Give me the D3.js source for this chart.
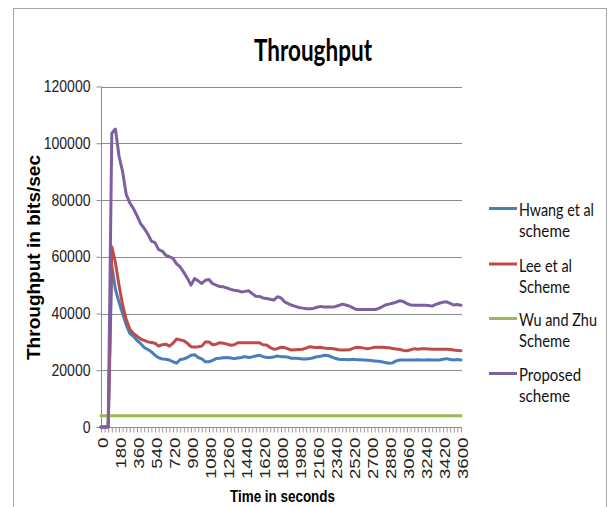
<!DOCTYPE html>
<html><head><meta charset="utf-8">
<script src="https://cdn.jsdelivr.net/npm/d3@7"></script>
<style>body{margin:0;background:#fff;} svg{display:block}</style>
</head><body><svg id="chart" width="613" height="507"></svg>
<script>
const times = [0,36,72,108,144,180,216,252,288,324,360,396,432,468,504,540,576,612,648,684,720,756,792,828,864,900,936,972,1008,1044,1080,1116,1152,1188,1224,1260,1296,1332,1368,1404,1440,1476,1512,1548,1584,1620,1656,1692,1728,1764,1800,1836,1872,1908,1944,1980,2016,2052,2088,2124,2160,2196,2232,2268,2304,2340,2376,2412,2448,2484,2520,2556,2592,2628,2664,2700,2736,2772,2808,2844,2880,2916,2952,2988,3024,3060,3096,3132,3168,3204,3240,3276,3312,3348,3384,3420,3456,3492,3528,3564,3600];
const xTickLabels = ["0","180","360","540","720","900","1080","1260","1440","1620","1800","1980","2160","2340","2520","2700","2880","3060","3240","3420","3600"];
const yTickValues = [0,20000,40000,60000,80000,100000,120000];

const hwang = [0,0,0,57000,48500,44000,40000,36000,33000,32000,30500,29400,28000,27300,26500,25300,24400,24000,23900,23600,23000,22500,23800,24000,24500,25300,25500,24500,24000,23000,23000,23500,24100,24200,24400,24500,24300,24100,24300,24500,24800,24500,24700,25000,25300,24800,24500,24500,24700,25000,24800,24800,24600,24200,24200,24100,24000,24000,24100,24400,24800,24900,25300,25200,24700,24200,23900,23800,23800,23700,23900,23700,23700,23600,23500,23400,23300,23200,23000,22700,22500,22600,23300,23600,23600,23600,23600,23600,23700,23600,23600,23700,23600,23600,23600,23900,24100,23800,23600,23800,23600];
const lee = [0,0,0,63500,58000,50000,43000,38000,34500,33000,32000,31000,30500,30000,29800,29500,28500,29000,29200,28500,29500,31000,30700,30400,29500,28300,28200,28300,28500,30000,30000,29000,29200,29700,29500,29200,28800,29000,29700,29700,29700,29700,29700,29700,29700,29000,28900,28000,27400,27600,28100,28000,27500,27100,27200,27300,27400,27800,28300,28100,28000,28100,27800,27700,27700,27500,27200,27100,27100,27200,27700,28100,28000,27800,27600,27800,28100,28100,28100,28000,27900,27700,27500,27300,27000,26900,27200,27600,27400,27600,27600,27500,27400,27400,27400,27400,27400,27300,27100,27000,26900];
const wuZhu = [4000,4000,4000,4000,4000,4000,4000,4000,4000,4000,4000,4000,4000,4000,4000,4000,4000,4000,4000,4000,4000,4000,4000,4000,4000,4000,4000,4000,4000,4000,4000,4000,4000,4000,4000,4000,4000,4000,4000,4000,4000,4000,4000,4000,4000,4000,4000,4000,4000,4000,4000,4000,4000,4000,4000,4000,4000,4000,4000,4000,4000,4000,4000,4000,4000,4000,4000,4000,4000,4000,4000,4000,4000,4000,4000,4000,4000,4000,4000,4000,4000,4000,4000,4000,4000,4000,4000,4000,4000,4000,4000,4000,4000,4000,4000,4000,4000,4000,4000,4000,4000];
const proposed = [0,0,0,103500,105000,95500,90000,82000,79000,77000,74500,71700,70000,68000,65500,65000,62500,62000,60500,60000,59400,57500,56400,54500,52400,50000,52300,51500,50600,51700,52000,50500,50000,49500,49400,49000,48500,48200,48000,47600,47800,48000,47000,46100,46000,45500,45300,45000,44700,45900,45500,44100,43500,42900,42500,42100,41900,41700,41700,41800,42200,42500,42300,42300,42300,42400,42800,43300,43000,42600,42000,41400,41400,41400,41400,41400,41400,41700,42300,43000,43300,43600,44000,44500,44200,43500,43000,42900,42900,42900,42900,42800,42600,43200,43600,44000,44100,43600,43000,43200,42900];

const seriesNames = [["Hwang et al","scheme"],["Lee et al","Scheme"],["Wu and Zhu","Scheme"],["Proposed","scheme"]];
const seriesData = [hwang, lee, wuZhu, proposed];
const seriesColors = ["#4A7EBB","#BE4B48","#98B954","#7D60A0"];

const svg = d3.select("#chart");
svg.append("rect").attr("width",613).attr("height",507).attr("fill","#fff");
// outer frame
svg.append("rect").attr("x",13.5).attr("y",8.5).attr("width",593).attr("height",540)
  .attr("fill","none").attr("stroke","#a6a6a6").attr("stroke-width",1);

const x = d3.scaleLinear().domain([0,3600]).range([101,461]);
const y = d3.scaleLinear().domain([0,120000]).range([427,86.5]);

// gridlines
svg.append("g").selectAll("line").data(yTickValues.filter(v=>v>0)).join("line")
  .attr("x1",101).attr("x2",462).attr("y1",d=>Math.round(y(d))+0.5).attr("y2",d=>Math.round(y(d))+0.5)
  .attr("stroke","#8c8c8c").attr("stroke-width",1);

// y axis
const yAxis = svg.append("g").attr("transform","translate(101.5,0)")
  .call(d3.axisLeft(y).tickValues(yTickValues).tickSize(5).tickPadding(6).tickFormat(d3.format("d")));
yAxis.select(".domain").attr("stroke","#8c8c8c").attr("d","M0,86.5V427");
yAxis.selectAll(".tick line").attr("stroke","#8c8c8c");
yAxis.selectAll(".tick text").attr("fill","#222").style("font-family","'Liberation Sans', Arial, sans-serif")
  .style("font-size","16px").attr("textLength",d=>String(d).length*7.8).attr("lengthAdjust","spacingAndGlyphs");

// x axis minor ticks
const xAxis = svg.append("g").attr("transform","translate(0,427.5)")
  .call(d3.axisBottom(x).tickValues(times).tickSize(5).tickFormat(""));
xAxis.select(".domain").attr("stroke","#8c8c8c").attr("d","M101,0H462");
xAxis.selectAll(".tick line").attr("stroke","#9a9a9a");

// x axis labels
const xLab = svg.append("g").attr("transform","translate(0,427.5)")
  .call(d3.axisBottom(x).tickValues(xTickLabels.map(Number)).tickSize(0).tickFormat((d,i)=>xTickLabels[i]));
xLab.select(".domain").remove();
xLab.selectAll(".tick text")
  .attr("transform","rotate(-90)").attr("x",-10).attr("y",2).attr("dy","0.35em")
  .style("text-anchor","end").attr("fill","#222")
  .style("font-family","'Liberation Sans', Arial, sans-serif").style("font-size","14px")
  .attr("textLength",(d,i)=>xTickLabels[i].length*10.4).attr("lengthAdjust","spacingAndGlyphs");

// lines
const line = d3.line().x((d,i)=>x(times[i])).y(d=>y(d));
seriesData.forEach((s,k)=>{
  svg.append("path").datum(s).attr("d",line).attr("fill","none")
    .attr("stroke",seriesColors[k]).attr("stroke-width",3)
    .attr("stroke-linejoin","round").attr("stroke-linecap","round");
});

// title
svg.append("text").attr("x",313).attr("y",61).attr("text-anchor","middle")
  .style("font-family","Lato, 'Open Sans', sans-serif").style("font-weight","bold").style("font-size","31px")
  .attr("textLength",118).attr("lengthAdjust","spacingAndGlyphs").text("Throughput");

// y axis title
svg.append("text").attr("transform","translate(40,257.5) rotate(-90)").attr("text-anchor","middle")
  .style("font-family","'Liberation Sans', Arial, sans-serif").style("font-weight","bold").style("font-size","18px")
  .attr("textLength",205).attr("lengthAdjust","spacingAndGlyphs").text("Throughput in bits/sec");

// x axis title
svg.append("text").attr("x",282.5).attr("y",502).attr("text-anchor","middle")
  .style("font-family","'Liberation Sans', Arial, sans-serif").style("font-weight","bold").style("font-size","17px")
  .attr("textLength",105).attr("lengthAdjust","spacingAndGlyphs").text("Time in seconds");

// legend
const legendY = [208.5,264,318.5,373.5];
const leg = svg.append("g");
seriesNames.forEach((nm,k)=>{
  leg.append("line").attr("x1",489).attr("x2",517).attr("y1",legendY[k]).attr("y2",legendY[k])
    .attr("stroke",seriesColors[k]).attr("stroke-width",3);
  nm.forEach((t,j)=>{
    leg.append("text").attr("x",519).attr("y",legendY[k]+7.5+j*21.3)
      .style("font-family","Lato, 'Open Sans', sans-serif").style("font-size","17.5px").attr("fill","#111")
      .attr("textLength",{"Hwang et al":75,"scheme":51,"Scheme":51,"Lee et al":53,"Wu and Zhu":78,"Proposed":62}[t])
      .attr("lengthAdjust","spacingAndGlyphs").text(t);
  });
});
</script></body></html>
